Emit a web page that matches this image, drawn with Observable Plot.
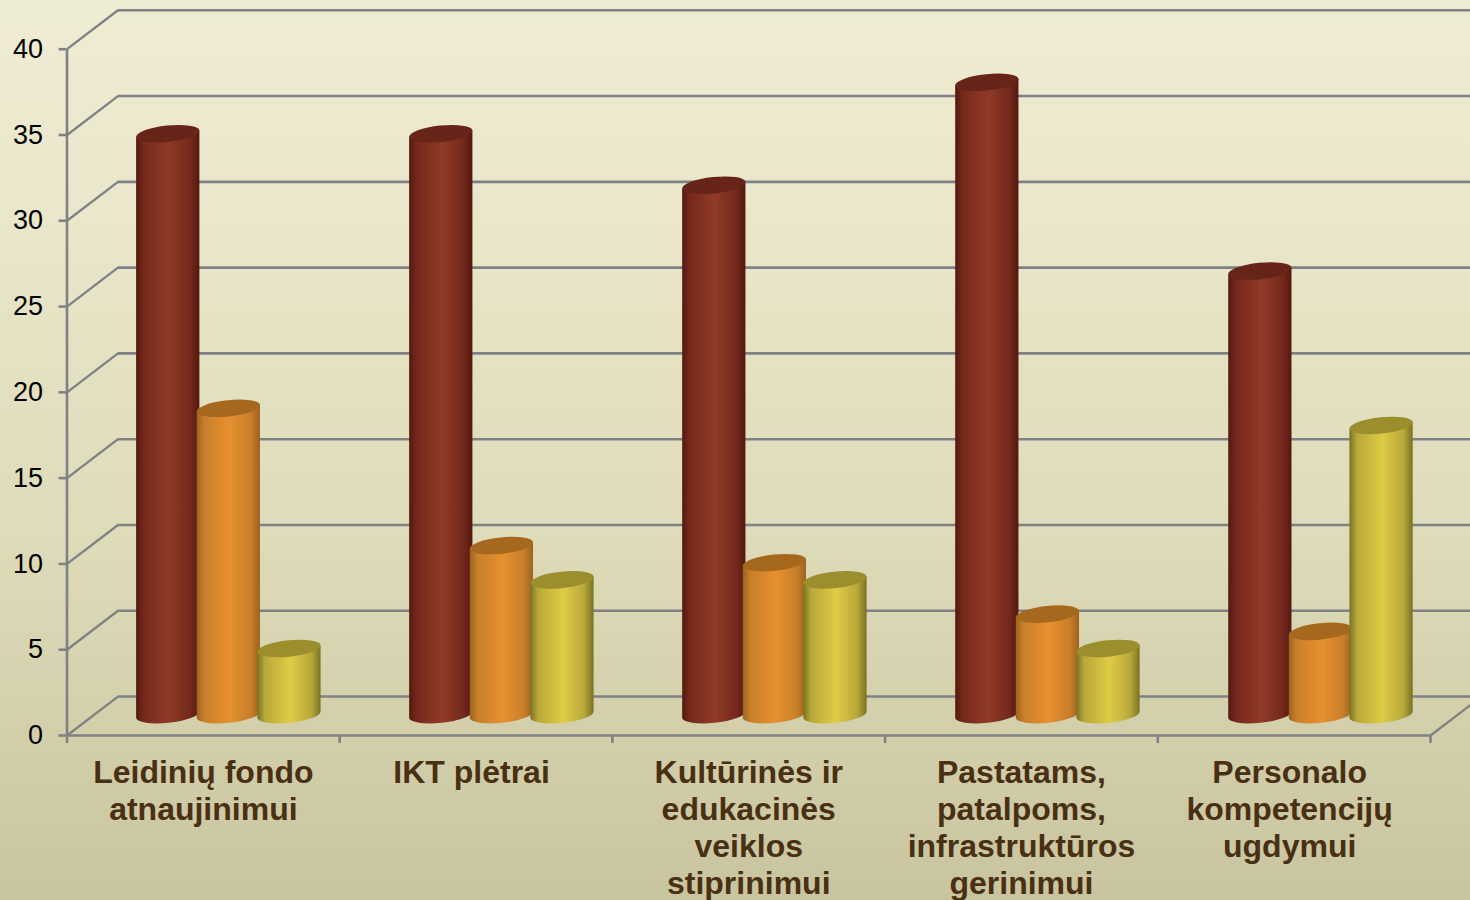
<!DOCTYPE html>
<html>
<head>
<meta charset="utf-8">
<script src="https://cdn.jsdelivr.net/npm/d3@7"></script>
<script src="https://cdn.jsdelivr.net/npm/@observablehq/plot@0.6"></script>
<style>
html,body{margin:0;padding:0;overflow:hidden;}
svg{display:block;}
</style>
</head>
<body>
<div id="chart"></div>
<script>
const categories = ["Leidinių fondo\natnaujinimui","IKT plėtrai","Kultūrinės ir\nedukacinės\nveiklos\nstiprinimui","Pastatams,\npatalpoms,\ninfrastruktūros\ngerinimui","Personalo\nkompetencijų\nugdymui"];
const seriesA = [34,34,31,37,26];
const seriesB = [18,10,9,6,5];
const seriesC = [4,8,8,4,17];
const yTicks = [0,5,10,15,20,25,30,35,40];
const xTicks = [0,1,2,3,4,5];

const depthX = 0.187, depthY = 2.27;
const seriesStep = 0.2222, cylW = 0.232, groupStep = 1.0012;
const gridColor = "#808184";

const palettes = [
  {id:"gA", edge:"#54190f", mid:"#75291c", hi:"#903a27", top:"#672418", values:seriesA, off:-1},
  {id:"gB", edge:"#9c6320", mid:"#c97f2a", hi:"#e79030", top:"#a5681e", values:seriesB, off:0},
  {id:"gC", edge:"#7a7223", mid:"#b8a83a", hi:"#dfcb45", top:"#9a8e2d", values:seriesC, off:1}
];

function defsMark(){
  const d = d3.create("svg:defs");
  for (const p of palettes){
    const g = d.append("linearGradient").attr("id",p.id).attr("x1",0).attr("x2",1).attr("y1",0).attr("y2",0);
    [[0,p.edge],[0.12,p.mid],[0.52,p.hi],[0.85,p.mid],[1,p.edge]].forEach(([o,c])=>g.append("stop").attr("offset",o).attr("stop-color",c));
  }
  return d.node();
}

function cylinderRender(p){
  return (I, scales, v) => {
    const g = d3.create("svg:g");
    const tilt = 6, ry = 8.2, sink = 1.6;
    for (const i of I){
      const x1=v.x1[i], x2=v.x2[i], yb=v.y1[i], yt=v.y2[i]+sink;
      const d=(x2-x1)/2*Math.tan(tilt*Math.PI/180);
      const rx=(x2-x1)/2/Math.cos(tilt*Math.PI/180);
      g.append("path").attr("fill",`url(#${p.id})`)
       .attr("d",`M${x1},${yt+d}L${x1},${yb+d}A${rx},${ry} ${-tilt} 0 0 ${x2},${yb-d}L${x2},${yt-d}Z`);
      g.append("path").attr("fill",p.top)
       .attr("d",`M${x1},${yt+d}A${rx},${ry} ${-tilt} 1 0 ${x2},${yt-d}A${rx},${ry} ${-tilt} 1 0 ${x1},${yt+d}Z`);
    }
    return g.node();
  };
}

const cylMarks = palettes.map(p => Plot.rect(p.values.map((v,i)=>({i,v})), {
  x1: d => d.i*groupStep + 0.5 + depthX/2 + p.off*seriesStep - cylW/2,
  x2: d => d.i*groupStep + 0.5 + depthX/2 + p.off*seriesStep + cylW/2,
  y1: () => depthY/2 + 0.05,
  y2: d => d.v + depthY/2,
  fill: p.hi,
  render: cylinderRender(p)
}));

const labelFont = {fontFamily:"Liberation Sans", fontSize:32, fontWeight:"bold", fill:"#4a3012", lineHeight:1.156, lineAnchor:"top", textAnchor:"middle"};
const centred = [0,2,3], nudged = [1,4];

const plot = Plot.plot({
  width:1470, height:900,
  marginLeft:66.5, marginRight:0, marginTop:0, marginBottom:165,
  x:{domain:[0,5], range:[66.5,1430], axis:null},
  y:{domain:[0,40], range:[735,48.7], axis:null},
  style:{background:"linear-gradient(180deg,#efecd4 0%,#e9e6ca 25%,#dedbb9 60%,#cbc7a2 95%,#c8c49e 100%)", overflow:"hidden", fontFamily:"Liberation Sans"},
  marks:[
    defsMark,
    Plot.ruleY(yTicks,{x1:depthX,x2:5+depthX,y:d=>d+depthY,stroke:gridColor,strokeWidth:2.6}),
    Plot.link(yTicks,{x1:0,x2:depthX,y1:d=>d,y2:d=>d+depthY,stroke:gridColor,strokeWidth:2.3}),
    Plot.link([0],{x1:5,x2:5+depthX,y1:d=>d,y2:d=>d+depthY,stroke:gridColor,strokeWidth:2.3}),
    Plot.ruleX([0],{y1:0,y2:40,stroke:gridColor,strokeWidth:2.6}),
    Plot.ruleY([0],{x1:0,x2:5,stroke:gridColor,strokeWidth:2.6}),
    Plot.axisY({ticks:yTicks,tickSize:8,tickPadding:16,fontSize:27,fill:"#000",stroke:gridColor,strokeWidth:2.6,label:null}),
    Plot.axisX({ticks:xTicks,tickSize:8,tickFormat:()=>"",stroke:gridColor,strokeWidth:2.6,label:null}),
    ...cylMarks,
    Plot.text(centred,{x:d=>d+0.5,y:()=>0,dy:21.5,text:d=>categories[d],...labelFont}),
    Plot.text(nudged,{x:d=>d+0.5,y:()=>0,dy:21.5,dx:-4.5,text:d=>categories[d],...labelFont})
  ]
});
document.getElementById("chart").append(plot);
</script>
</body>
</html>
